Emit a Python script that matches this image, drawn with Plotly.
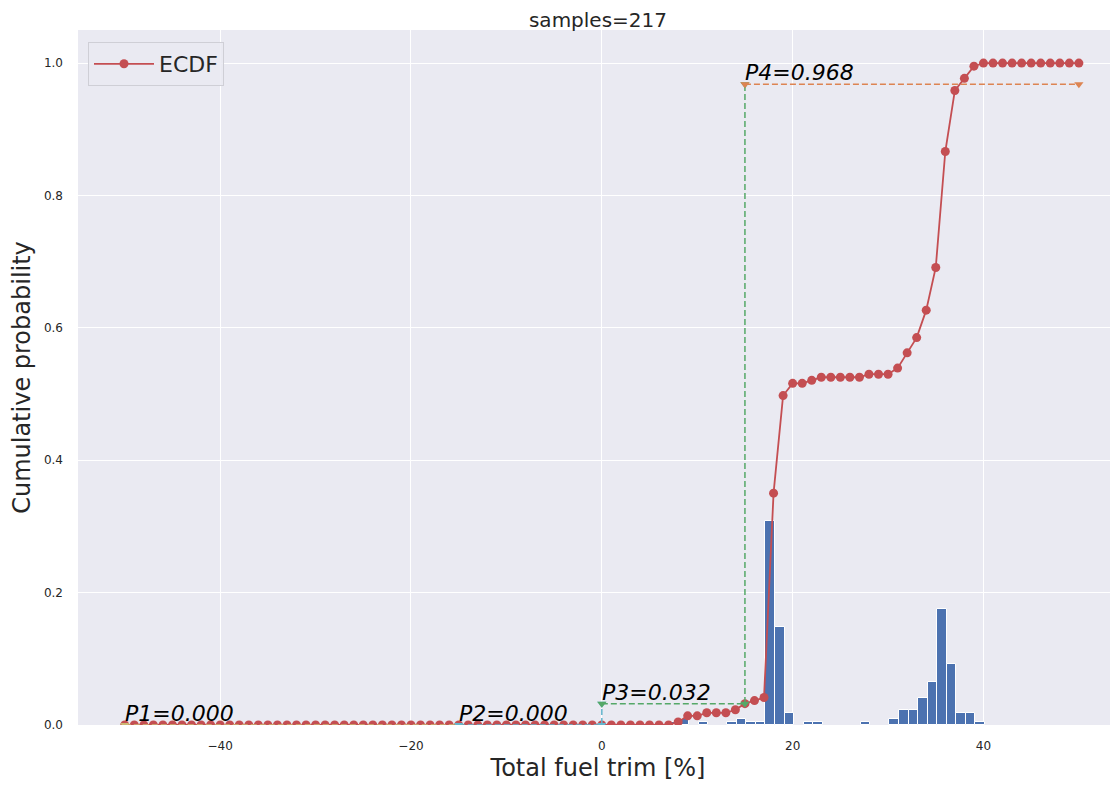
import plotly.graph_objects as go

# ---------------- data ----------------
samples = 217

# histogram (bin width 1), left edges of bins and counts per bin
hist_bin_left = [7.15, 8.15, 10.15, 13.15, 14.15, 15.15, 16.15, 17.15, 18.15, 19.15,
                 21.15, 22.15, 27.15, 30.15, 31.15, 32.15, 33.15, 34.15, 35.15, 36.15,
                 37.15, 38.15, 39.15]
hist_counts = [1, 2, 1, 1, 2, 1, 1, 67, 32, 4,
               1, 1, 1, 2, 5, 5, 9, 14, 38, 20,
               4, 4, 1]

# ECDF evaluated at integer trims from -50 to 50 (cumulative counts)
ecdf_x = list(range(-50, 51))
ecdf_counts = [
    0, 0, 0, 0, 0, 0, 0, 0, 0, 0,        # -50 .. -41
    0, 0, 0, 0, 0, 0, 0, 0, 0, 0,        # -40 .. -31
    0, 0, 0, 0, 0, 0, 0, 0, 0, 0,        # -30 .. -21
    0, 0, 0, 0, 0, 0, 0, 0, 0, 0,        # -20 .. -11
    0, 0, 0, 0, 0, 0, 0, 0, 0, 0,        # -10 .. -1
    0, 0, 0, 0, 0, 0, 0, 0, 1, 3,        # 0 .. 9
    3, 4, 4, 4, 5, 7, 8, 9, 76, 108,     # 10 .. 19
    112, 112, 113, 114, 114, 114, 114, 114, 115, 115,  # 20 .. 29
    115, 117, 122, 127, 136, 150, 188, 208, 212, 216,  # 30 .. 39
    217, 217, 217, 217, 217, 217, 217, 217, 217, 217,  # 40 .. 49
    217,                                               # 50
]

# interval probabilities
p_names = ["P1", "P2", "P3", "P4"]
p_bounds = [-50, -15, 0, 15, 50]
p_values = [0.000, 0.000, 0.032, 0.968]
p_colors = ["#CCB974", "#64B5CD", "#55A868", "#DD8452"]

# ---------------- figure ----------------
W, H = 1110, 777
ML, MR, MT, MB = 70, 0, 22, 60
FONT = "DejaVu Sans"
TXT = "#262626"

fig = go.Figure()

fig.add_trace(go.Bar(
    x=[l + 0.5 for l in hist_bin_left],
    y=[c / samples for c in hist_counts],
    width=1.0,
    marker=dict(color="#4C72B0", line=dict(color="white", width=1)),
    showlegend=False, hoverinfo="skip",
))

fig.add_trace(go.Scatter(
    x=ecdf_x, y=[c / samples for c in ecdf_counts],
    mode="lines+markers", name="ECDF",
    line=dict(color="#C44E52", width=1.8),
    marker=dict(color="#C44E52", size=9),
))

for i, (nm, v, col) in enumerate(zip(p_names, p_values, p_colors)):
    xs = [p_bounds[i], p_bounds[i + 1]]
    ys = [v, v]
    if i + 1 < len(p_values):
        xs.append(p_bounds[i + 1])
        ys.append(p_values[i + 1])
    fig.add_trace(go.Scatter(
        x=xs, y=ys, mode="lines+markers", showlegend=False,
        line=dict(color=col, width=1.5, dash="6px,3px"),
        marker=dict(symbol="triangle-down", size=8, color=col),
        hoverinfo="skip",
    ))
    fig.add_annotation(
        x=p_bounds[i], y=v, xref="x", yref="y",
        text=f"<i>{nm}={v:.3f}</i>", showarrow=False,
        xanchor="left", yanchor="bottom", xshift=-2, yshift=-3,
        font=dict(family=FONT, size=22, color="black"),
    )

fig.update_layout(
    width=W, height=H, autosize=False,
    margin=dict(l=ML, r=MR, t=MT, b=MB),
    paper_bgcolor="white", plot_bgcolor="#EAEAF2",
    font=dict(family=FONT, color=TXT),
    bargap=0,
    title=dict(text="samples=217", x=(ML + (W - ML - MR) / 2) / W, xanchor="center",
               y=1 - 12 / H, yanchor="middle",
               font=dict(family=FONT, size=20, color=TXT)),
    legend=dict(x=10 / (W - ML - MR), y=1 - 12 / (H - MT - MB), xanchor="left", yanchor="top",
                bgcolor="rgba(234,234,242,0.85)", bordercolor="#CFCFD6", borderwidth=1,
                itemwidth=60,
                font=dict(family=FONT, size=22, color=TXT)),
)

fig.update_xaxes(
    range=[-54.9, 54.1], showgrid=True, gridcolor="white", gridwidth=1.3,
    zeroline=False, showline=False, ticks="", automargin=False,
    tickvals=[-40, -20, 0, 20, 40], tickfont=dict(family=FONT, size=12, color=TXT),
    ticklabelstandoff=12,
    title=dict(text="Total fuel trim [%]", font=dict(family=FONT, size=24, color=TXT), standoff=7),
)
fig.update_yaxes(
    range=[0, 1.05], showgrid=True, gridcolor="white", gridwidth=1.3,
    zeroline=False, showline=False, ticks="", automargin=False,
    tickvals=[0, 0.2, 0.4, 0.6, 0.8, 1.0], tickformat=".1f",
    tickfont=dict(family=FONT, size=12, color=TXT),
    ticklabelstandoff=14,
    title=dict(text="Cumulative probability", font=dict(family=FONT, size=24, color=TXT), standoff=7),
)

fig.write_html("out.html")
